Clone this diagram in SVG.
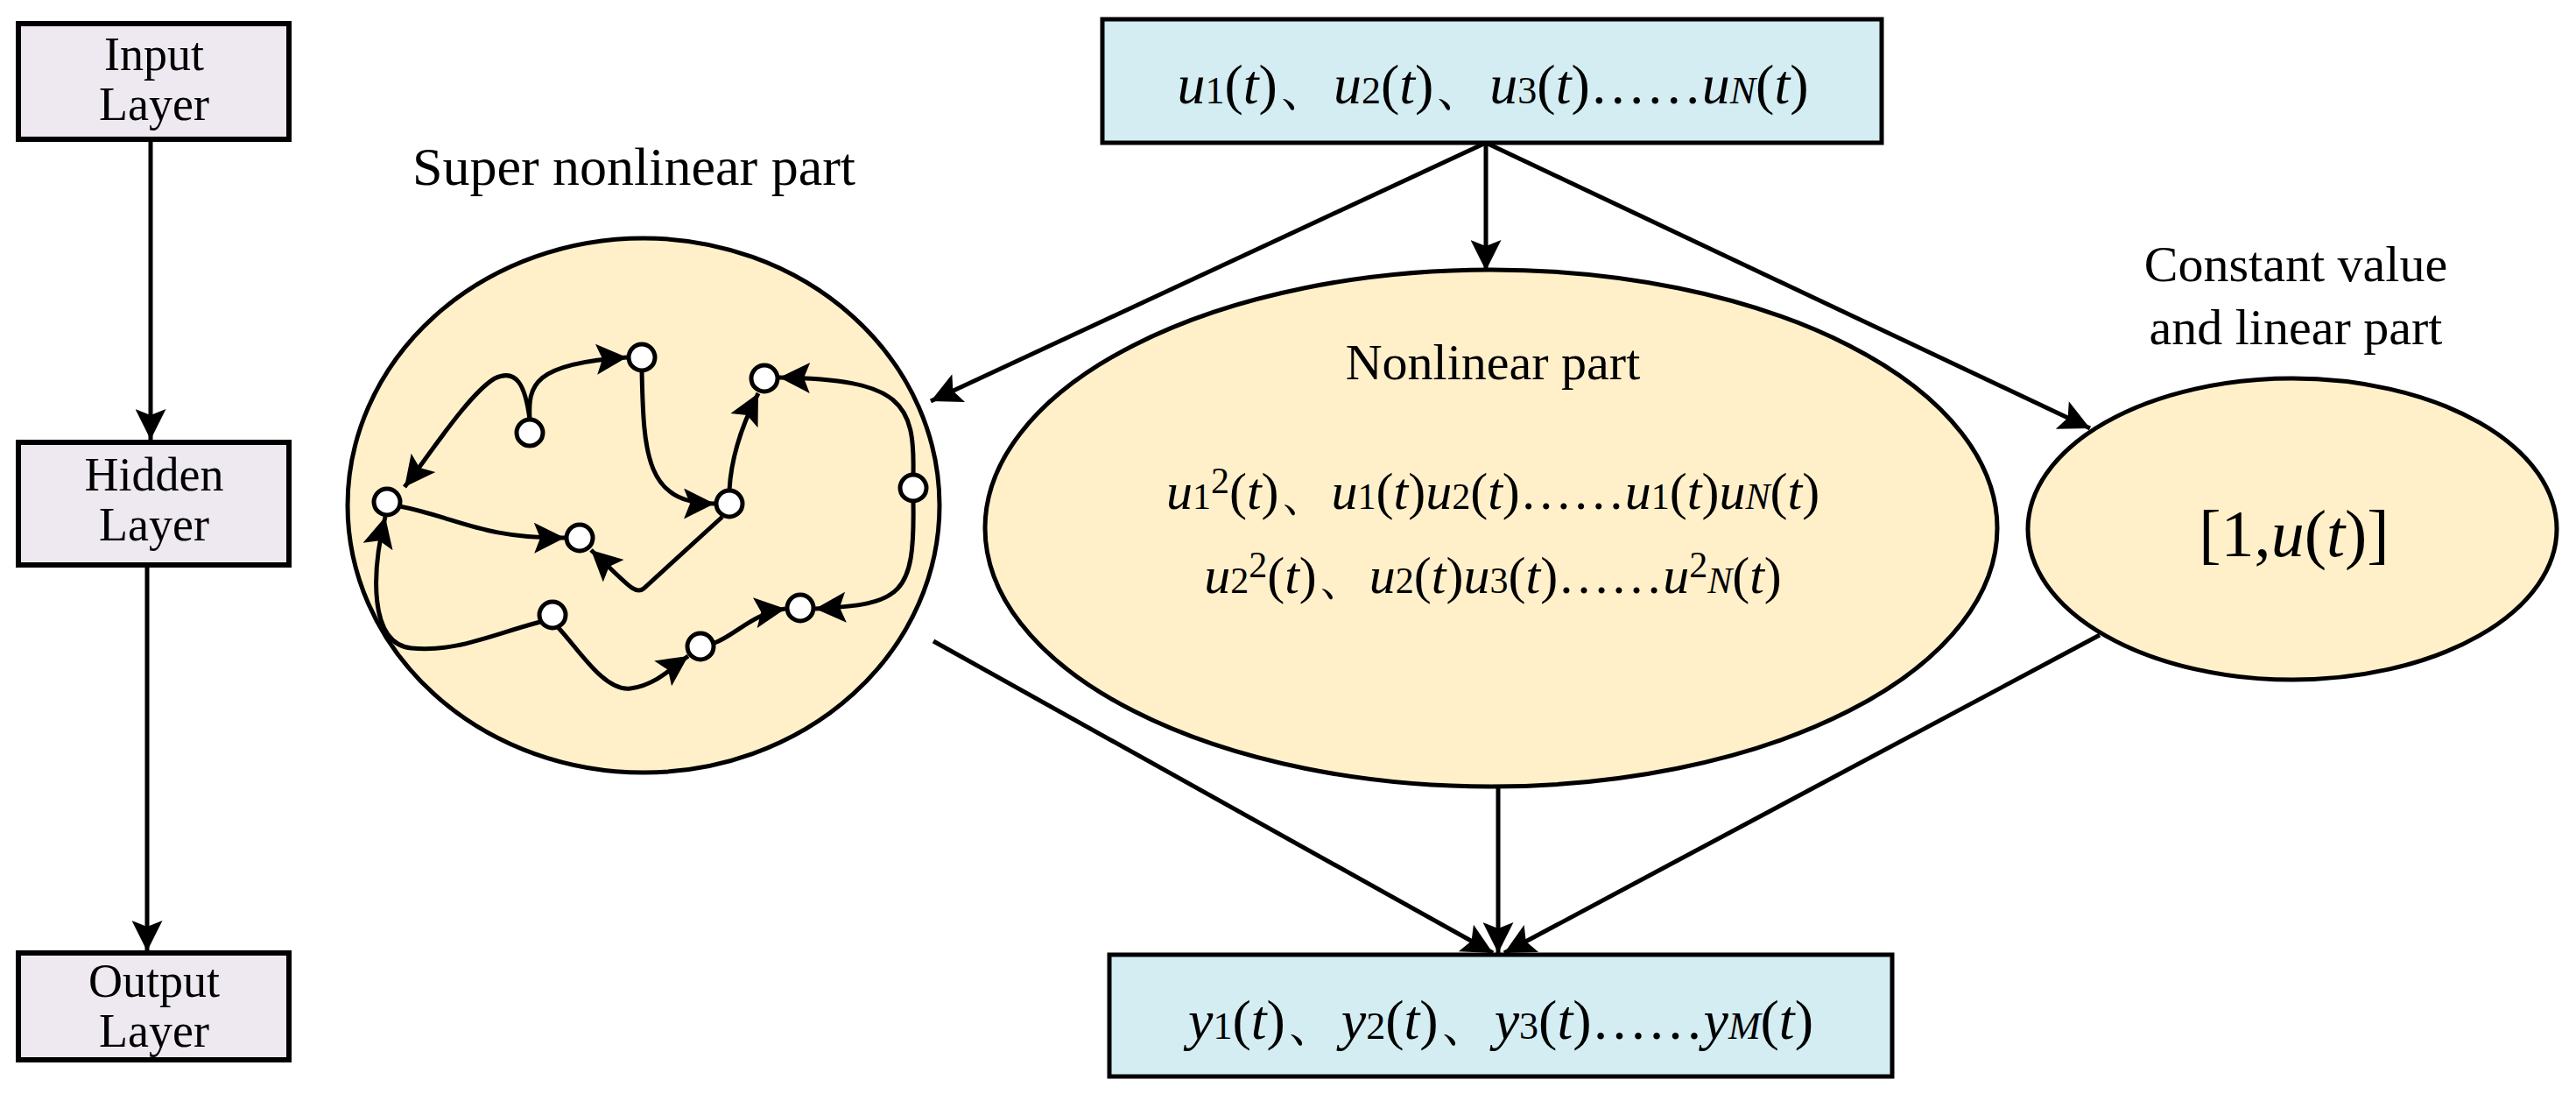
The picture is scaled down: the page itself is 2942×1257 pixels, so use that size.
<svg xmlns="http://www.w3.org/2000/svg" width="2942" height="1257" viewBox="0 0 2942 1257">
<style>
.box{fill:#EEE9F1;stroke:#000;stroke-width:6}
.io{fill:#D3EDF2;stroke:#000;stroke-width:5}
.ell{fill:#FFF0CA;stroke:#000;stroke-width:5}
.t{font-family:"Liberation Serif",serif;fill:#000}
.i{font-style:italic}
.c{stroke:#000;stroke-width:5;fill:none}
.n{fill:#fff;stroke:#000;stroke-width:5}
</style>
<defs>
<marker id="a" viewBox="0 0 10 10" refX="10" refY="5" markerWidth="8" markerHeight="7" orient="auto" markerUnits="strokeWidth"><path d="M0,0 L10,5 L0,10 L2,5 z" fill="#000"/></marker>
</defs>
<rect width="2942" height="1257" fill="#fff"/>
<g id="connectors">
<path class="c" d="M172,159 V502" marker-end="url(#a)"/>
<path class="c" d="M168,645 V1086" marker-end="url(#a)"/>
<path class="c" d="M1697,163 V309" marker-end="url(#a)"/>
<path class="c" d="M1697,163 L1063,458" marker-end="url(#a)"/>
<path class="c" d="M1697,163 L2387,489" marker-end="url(#a)"/>
<path class="c" d="M1066,732 L1705,1088" marker-end="url(#a)"/>
<path class="c" d="M1711,898 V1088" marker-end="url(#a)"/>
<path class="c" d="M2398,725 L1718,1088" marker-end="url(#a)"/>
</g>
<g id="input"><rect class="box" x="21" y="27" width="309" height="132"/><text class="t" font-size="54" text-anchor="middle"><tspan x="176" y="80">Input</tspan><tspan x="176" y="137">Layer</tspan></text></g>
<g id="hidden"><rect class="box" x="21" y="505" width="309" height="140"/><text class="t" font-size="54" text-anchor="middle"><tspan x="176" y="560">Hidden</tspan><tspan x="176" y="617">Layer</tspan></text></g>
<g id="output"><rect class="box" x="21" y="1088" width="309" height="122"/><text class="t" font-size="54" text-anchor="middle"><tspan x="176" y="1138">Output</tspan><tspan x="176" y="1195">Layer</tspan></text></g>
<g id="super">
<text class="t" font-size="62" x="724" y="211" text-anchor="middle">Super nonlinear part</text>
<ellipse class="ell" cx="735" cy="577" rx="338" ry="305"/>
<g>
<path class="c" d="M605,479 C600,440 590,420 565,432 C535,450 490,520 462,556" marker-end="url(#a)"/>
<path class="c" d="M605,479 C603,440 608,415 716,408" marker-end="url(#a)"/>
<path class="c" d="M733,423 C735,520 738,575 816,575" marker-end="url(#a)"/>
<path class="c" d="M833,560 C835,520 850,480 866,449" marker-end="url(#a)"/>
<path class="c" d="M1043,542 C1045,460 1030,433 890,431" marker-end="url(#a)"/>
<path class="c" d="M1043,573 C1045,680 1030,690 931,695" marker-end="url(#a)"/>
<path class="c" d="M456,578 C520,590 550,615 645,614" marker-end="url(#a)"/>
<path class="c" d="M825,590 L735,672 C725,680 715,665 675,628" marker-end="url(#a)"/>
<path class="c" d="M617,710 C560,725 520,745 470,740 C420,735 425,650 440,590" marker-end="url(#a)"/>
<path class="c" d="M637,716 C660,740 690,790 720,786 C750,782 770,760 786,749" marker-end="url(#a)"/>
<path class="c" d="M816,734 C840,725 860,700 897,695" marker-end="url(#a)"/>
</g>
<circle class="n" cx="733" cy="408" r="15"/><circle class="n" cx="605" cy="494" r="15"/><circle class="n" cx="873" cy="432" r="15"/><circle class="n" cx="442" cy="573" r="15"/><circle class="n" cx="662" cy="614" r="15"/><circle class="n" cx="833" cy="575" r="15"/><circle class="n" cx="1043" cy="557" r="15"/><circle class="n" cx="631" cy="702" r="15"/><circle class="n" cx="800" cy="738" r="15"/><circle class="n" cx="914" cy="694" r="15"/>
</g>
<g id="inputs"><rect class="io" x="1259" y="22" width="890" height="141"/>
<text class="t" font-size="64" x="1705" y="118" text-anchor="middle"><tspan class="i">u</tspan><tspan font-size="44">1</tspan>(<tspan class="i">t</tspan>)、<tspan class="i">u</tspan><tspan font-size="44">2</tspan>(<tspan class="i">t</tspan>)、<tspan class="i">u</tspan><tspan font-size="44">3</tspan>(<tspan class="i">t</tspan>)……<tspan class="i">u</tspan><tspan font-size="44" class="i">N</tspan>(<tspan class="i">t</tspan>)</text></g>
<g id="nonlinear"><ellipse class="ell" cx="1703" cy="603" rx="578" ry="295"/>
<text class="t" font-size="58" x="1705" y="433" text-anchor="middle">Nonlinear part</text>
<text class="t" font-size="60" x="1705" y="581" text-anchor="middle"><tspan class="i">u</tspan><tspan font-size="42">1</tspan><tspan font-size="42" dy="-18">2</tspan><tspan dy="18">(</tspan><tspan class="i">t</tspan>)、<tspan class="i">u</tspan><tspan font-size="42">1</tspan>(<tspan class="i">t</tspan>)<tspan class="i">u</tspan><tspan font-size="42">2</tspan>(<tspan class="i">t</tspan>)……<tspan class="i">u</tspan><tspan font-size="42">1</tspan>(<tspan class="i">t</tspan>)<tspan class="i">u</tspan><tspan font-size="42" class="i">N</tspan>(<tspan class="i">t</tspan>)</text>
<text class="t" font-size="60" x="1705" y="677" text-anchor="middle"><tspan class="i">u</tspan><tspan font-size="42">2</tspan><tspan font-size="42" dy="-18">2</tspan><tspan dy="18">(</tspan><tspan class="i">t</tspan>)、<tspan class="i">u</tspan><tspan font-size="42">2</tspan>(<tspan class="i">t</tspan>)<tspan class="i">u</tspan><tspan font-size="42">3</tspan>(<tspan class="i">t</tspan>)……<tspan class="i">u</tspan><tspan font-size="42" dy="-18">2</tspan><tspan font-size="42" class="i" dy="18">N</tspan>(<tspan class="i">t</tspan>)</text></g>
<g id="linear"><text class="t" font-size="58" text-anchor="middle"><tspan x="2622" y="321">Constant value</tspan><tspan x="2622" y="393">and linear part</tspan></text>
<ellipse class="ell" cx="2618" cy="604" rx="302" ry="172"/>
<text class="t" font-size="76" x="2620" y="635" text-anchor="middle">[1,<tspan class="i">u</tspan>(<tspan class="i">t</tspan>)]</text></g>
<g id="outputs"><rect class="io" x="1267" y="1090" width="894" height="139"/>
<text class="t" font-size="64" x="1714" y="1186" text-anchor="middle"><tspan class="i">y</tspan><tspan font-size="44">1</tspan>(<tspan class="i">t</tspan>)、<tspan class="i">y</tspan><tspan font-size="44">2</tspan>(<tspan class="i">t</tspan>)、<tspan class="i">y</tspan><tspan font-size="44">3</tspan>(<tspan class="i">t</tspan>)……<tspan class="i">y</tspan><tspan font-size="44" class="i">M</tspan>(<tspan class="i">t</tspan>)</text></g>
</svg>
